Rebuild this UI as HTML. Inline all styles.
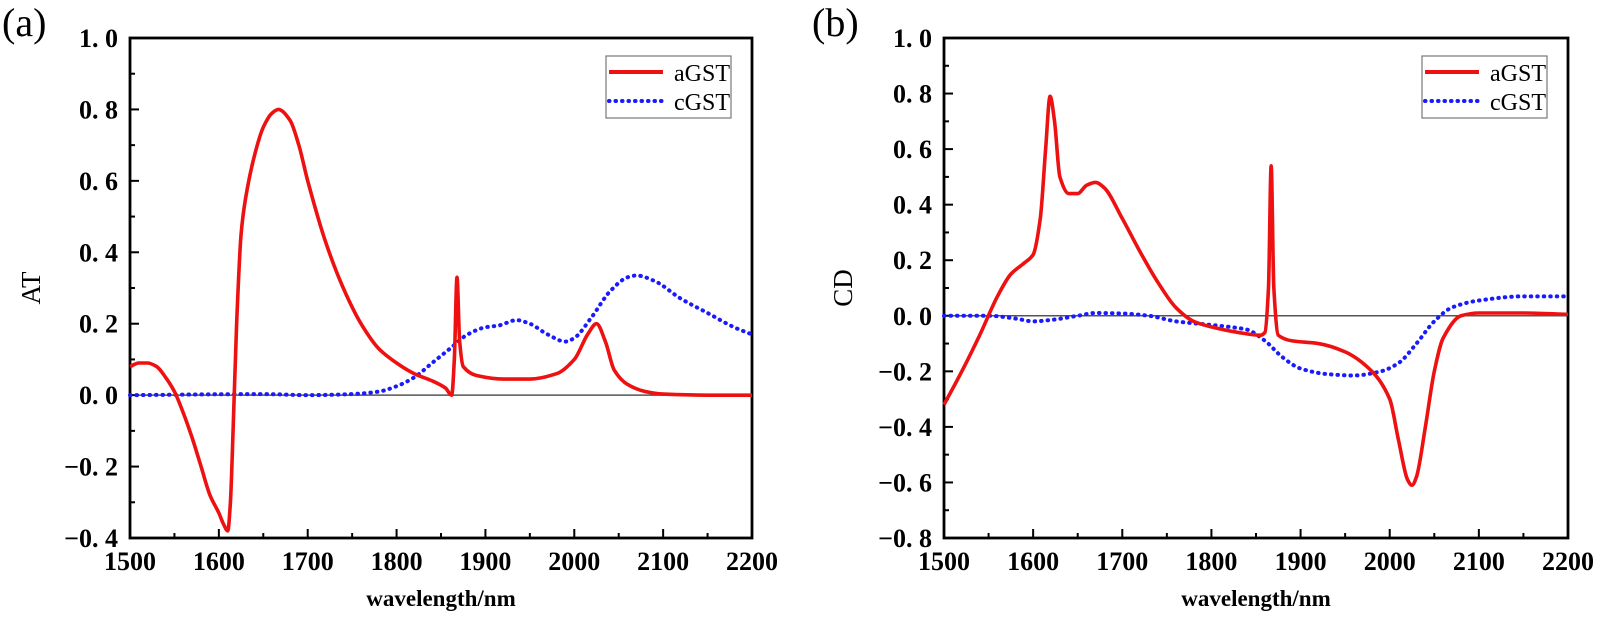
<!DOCTYPE html>
<html><head><meta charset="utf-8"><style>
html,body{margin:0;padding:0;background:#fff;}
svg{display:block;}
text{font-family:"Liberation Serif",serif;fill:#000;}
</style></head><body>
<svg id="chart" width="1600" height="622" viewBox="0 0 1600 622" xmlns="http://www.w3.org/2000/svg"></svg>
<script>
const xTicks = [1500,1600,1700,1800,1900,2000,2100,2200];
const yTicksA = [-0.4,-0.2,0.0,0.2,0.4,0.6,0.8,1.0];
const yTicksB = [-0.8,-0.6,-0.4,-0.2,0.0,0.2,0.4,0.6,0.8,1.0];
const aWlA = [1500,1510,1520,1530,1540,1550,1560,1570,1580,1590,1600,1605,1610,1613,1616,1620,1625,1630,1640,1650,1660,1667,1680,1690,1700,1720,1740,1760,1780,1800,1820,1840,1855,1862,1865,1868,1871,1875,1890,1920,1950,1980,2000,2015,2025,2035,2045,2060,2080,2100,2150,2200];
const aValA = [0.08,0.09,0.09,0.08,0.05,0.01,-0.05,-0.12,-0.2,-0.28,-0.33,-0.36,-0.38,-0.3,-0.1,0.2,0.45,0.55,0.67,0.75,0.79,0.80,0.77,0.7,0.6,0.43,0.3,0.2,0.13,0.09,0.06,0.04,0.02,0.0,0.1,0.33,0.15,0.08,0.055,0.045,0.045,0.06,0.1,0.17,0.2,0.15,0.07,0.03,0.01,0.003,0,0];
const cWlA = [1500,1650,1700,1750,1780,1800,1820,1840,1860,1880,1900,1915,1935,1950,1970,1990,2000,2020,2040,2060,2070,2090,2120,2150,2180,2200];
const cValA = [0,0.003,0,0.003,0.01,0.025,0.05,0.09,0.13,0.17,0.19,0.195,0.21,0.2,0.17,0.15,0.16,0.22,0.29,0.33,0.335,0.32,0.27,0.23,0.19,0.17];
const aWlB = [1500,1520,1540,1560,1575,1590,1600,1608,1614,1619,1624,1630,1640,1650,1660,1670,1680,1700,1720,1740,1760,1780,1800,1830,1855,1860,1864,1867,1870,1875,1890,1920,1950,1980,2000,2010,2020,2025,2030,2040,2050,2060,2080,2100,2150,2200];
const aValB = [-0.32,-0.2,-0.07,0.07,0.15,0.19,0.22,0.35,0.6,0.79,0.7,0.5,0.44,0.44,0.47,0.48,0.46,0.35,0.23,0.12,0.03,-0.02,-0.04,-0.06,-0.07,-0.06,0.1,0.54,0.1,-0.07,-0.09,-0.1,-0.13,-0.2,-0.3,-0.45,-0.59,-0.61,-0.58,-0.4,-0.2,-0.08,0.0,0.01,0.01,0.005];
const cWlB = [1500,1550,1580,1600,1620,1650,1670,1700,1730,1760,1790,1820,1840,1860,1880,1900,1930,1960,1990,2010,2030,2050,2070,2100,2150,2200];
const cValB = [0,0,-0.01,-0.02,-0.015,0,0.01,0.008,0,-0.02,-0.03,-0.04,-0.05,-0.09,-0.15,-0.19,-0.21,-0.215,-0.2,-0.17,-0.1,-0.02,0.03,0.055,0.07,0.07];

const NS="http://www.w3.org/2000/svg";
const svg=document.getElementById('chart');
function mk(tag,attrs,parent){const e=document.createElementNS(NS,tag);for(const k in attrs)e.setAttribute(k,attrs[k]);(parent||svg).appendChild(e);return e;}

function monoPath(xs,ys){
  const n=xs.length,d=[],m=[];
  for(let i=0;i<n-1;i++)d.push((ys[i+1]-ys[i])/(xs[i+1]-xs[i]));
  m[0]=d[0];m[n-1]=d[n-2];
  for(let i=1;i<n-1;i++){ if(d[i-1]*d[i]<=0)m[i]=0; else m[i]=2/(1/d[i-1]+1/d[i]); }
  let p=`M${xs[0]},${ys[0]}`;
  for(let i=0;i<n-1;i++){const h=(xs[i+1]-xs[i])/3;
    p+=` C${xs[i]+h},${ys[i]+m[i]*h} ${xs[i+1]-h},${ys[i+1]-m[i+1]*h} ${xs[i+1]},${ys[i+1]}`;}
  return p;
}

function panel(id,L,R,T,B,ymin,ymax,yTicks,yTitle,label,aW,aV,cW,cV,yTitleX,labelX){
  const g=mk('g',{});
  
  
  const sx=v=>L+(v-1500)/700*(R-L);
  const sy=v=>B-(v-ymin)/(ymax-ymin)*(B-T);
  const zl=mk('line',{x1:L,x2:R,y1:sy(0),y2:sy(0),stroke:'#555','stroke-width':1.5},g);
  
  
  const fr=mk('rect',{x:L,y:T,width:R-L,height:B-T,fill:'none',stroke:'#000','stroke-width':2.8},g);
  
  
  xTicks.forEach((t,i)=>{
    const x=sx(t);
    mk('line',{x1:x,x2:x,y1:B,y2:B-9,stroke:'#000','stroke-width':2},g);
    if(i<xTicks.length-1){const xm=sx(t+50);mk('line',{x1:xm,x2:xm,y1:B,y2:B-5,stroke:'#000','stroke-width':2},g);}
    const tx=mk('text',{x:x,y:B+32,'text-anchor':'middle','font-size':26,'font-weight':'bold'},g);
    tx.textContent=t;
    
    
  });
  yTicks.forEach((t,i)=>{
    const y=sy(t);
    mk('line',{x1:L,x2:L+9,y1:y,y2:y,stroke:'#000','stroke-width':2},g);
    if(i<yTicks.length-1){const ym=sy(t+0.1);mk('line',{x1:L,x2:L+5,y1:ym,y2:ym,stroke:'#000','stroke-width':2},g);}
    const tx=mk('text',{x:L-12,y:y+9,'text-anchor':'end','font-size':26,'font-weight':'bold'},g);
    tx.textContent=(t<0?'\u2212':'')+Math.abs(t).toFixed(1).replace('.','. ');
    
    
  });
  const xt=mk('text',{x:(L+R)/2,y:606,'text-anchor':'middle','font-size':23,'font-family':'Liberation Mono, monospace','font-weight':'bold'},g);
  xt.textContent='wavelength/nm';
  
  
  const yt=mk('text',{x:yTitleX,y:(T+B)/2,'text-anchor':'middle','font-size':27,transform:`rotate(-90 ${yTitleX} ${(T+B)/2})`},g);
  yt.textContent=yTitle;
  
  
  const pl=mk('text',{x:labelX,y:36,'font-size':40,'font-family':'Liberation Sans, sans-serif'},g);
  pl.textContent=label;
  
  
  const ca=mk('path',{d:monoPath(cW.map(sx),cV.map(sy)),fill:'none',stroke:'#1a1aff','stroke-width':4,'stroke-dasharray':'0.5 6','stroke-linecap':'round'},g);
  
  
  const aa=mk('path',{d:monoPath(aW.map(sx),aV.map(sy)),fill:'none',stroke:'#ee1111','stroke-width':3.6,'stroke-linejoin':'round'},g);
  
  
  const lg=mk('g',{},g);
  
  
  const lx=R-146;
  mk('rect',{x:lx,y:56,width:125,height:62,fill:'#fff',stroke:'#777','stroke-width':1.2},lg);
  mk('line',{x1:lx+3,x2:lx+57,y1:72,y2:72,stroke:'#ee1111','stroke-width':4},lg);
  mk('line',{x1:lx+3,x2:lx+57,y1:101,y2:101,stroke:'#1a1aff','stroke-width':4,'stroke-dasharray':'0.5 6','stroke-linecap':'round'},lg);
  const t1=mk('text',{x:lx+68,y:81,'font-size':24},lg);t1.textContent='aGST';
  
  
  const t2=mk('text',{x:lx+68,y:110,'font-size':24},lg);t2.textContent='cGST';
  
  
}
panel('a',130,752,38,538,-0.4,1.0,yTicksA,'AT','(a)',aWlA,aValA,cWlA,cValA,40,2);
panel('b',944,1568,38,538,-0.8,1.0,yTicksB,'CD','(b)',aWlB,aValB,cWlB,cValB,852,812);
</script>
</body></html>
